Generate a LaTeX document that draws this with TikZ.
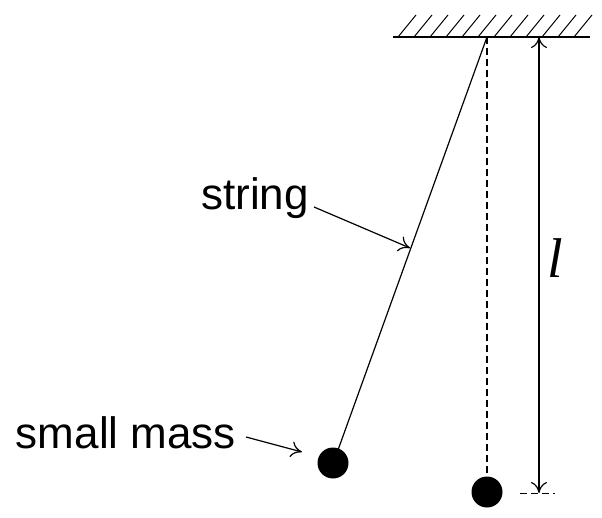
\documentclass[tikz,border=0pt]{standalone}
\usepackage{fontspec}
\setmainfont{Liberation Sans}
\usetikzlibrary{arrows.meta}
\begin{document}
\begin{tikzpicture}[x=1pt,y=-1pt,line width=1.2pt,
  lbl/.style={font=\fontsize{44}{48}\selectfont},
  arr/.style={-{To[length=11pt,width=16pt]}},
  dsh/.style={dash pattern=on 7pt off 4pt},
  ball/.style={circle,fill=black,inner sep=0pt,minimum size=31pt}]
\useasboundingbox (0,0) rectangle (602,518);
\coordinate (p) at (487,37);
\draw (393,37) -- (590,37);
\foreach \x in {398,414,...,586} \draw[line width=1pt] (\x,37) -- (\x+18,15);
\node[ball] (m1) at (333,463) {};
\node[ball] (m2) at (487,492) {};
\coordinate (e) at (338,450);
\draw (p) -- (e);
\draw[dsh] (p) -- (m2.north);
\coordinate (t) at (539,37);
\coordinate (b) at (539,493);
\draw[arr] (539,258) -- (t);
\draw[arr] (539,258) -- (b);
\draw[dsh,line width=0.9pt] (520,493) -- (555,493);
\node[font=\fontsize{56}{60}\selectfont\itshape] (l) at (555,258) {\fontspec{Liberation Serif}l};
\node[lbl] (s) at (255,198) {string};
\coordinate (sa) at (410,248);
\draw[arr] (314,207) -- (sa);
\node[lbl] (sm) at (126,433) {small mass};
\draw[arr] (246,437) -- (302,452);
\end{tikzpicture}
\end{document}
